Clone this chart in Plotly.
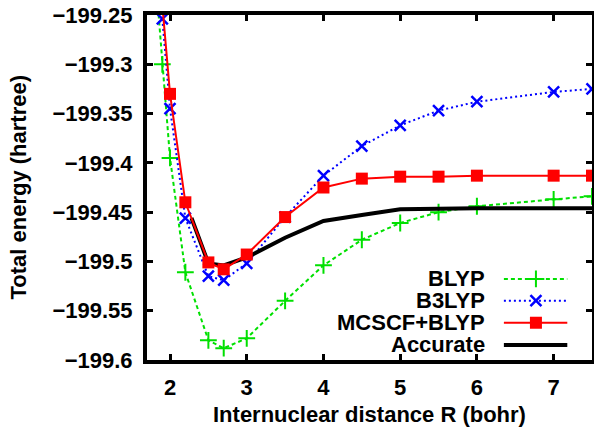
import plotly.graph_objects as go

# ---- data ----
blyp_r = [1.8, 1.9, 2.0, 2.2, 2.5, 2.7, 3.0, 3.5, 4.0, 4.5, 5.0, 5.5, 6.0, 7.0, 7.5]
blyp_e = [-199.20, -199.300, -199.395, -199.511, -199.580, -199.588, -199.578, -199.540,
          -199.504, -199.478, -199.461, -199.450, -199.444, -199.437, -199.434]

b3lyp_r = [1.9, 2.0, 2.2, 2.5, 2.7, 3.0, 3.5, 4.0, 4.5, 5.0, 5.5, 6.0, 7.0, 7.5]
b3lyp_e = [-199.254, -199.345, -199.456, -199.515, -199.519, -199.502, -199.455, -199.413,
           -199.383, -199.362, -199.347, -199.338, -199.328, -199.325]

mcscf_r = [1.9, 2.0, 2.2, 2.5, 2.7, 3.0, 3.5, 4.0, 4.5, 5.0, 5.5, 6.0, 7.0, 7.5]
mcscf_e = [-199.240, -199.330, -199.440, -199.501, -199.508, -199.493, -199.455, -199.425,
           -199.416, -199.414, -199.414, -199.413, -199.413, -199.413]

acc_r = [2.28, 2.5, 2.7, 3.0, 3.5, 4.0, 4.5, 5.0, 6.0, 7.0, 7.5]
acc_e = [-199.456, -199.502, -199.504, -199.496, -199.476, -199.459, -199.453, -199.447,
         -199.446, -199.446, -199.446]

y_ticks = [-199.25, -199.3, -199.35, -199.4, -199.45, -199.5, -199.55, -199.6]
y_tick_text = ["\u2212199.25", "\u2212199.3", "\u2212199.35", "\u2212199.4",
               "\u2212199.45", "\u2212199.5", "\u2212199.55", "\u2212199.6"]
x_ticks = [2, 3, 4, 5, 6, 7]

legend_names = ["BLYP", "B3LYP", "MCSCF+BLYP", "Accurate"]

GREEN = "#00e000"
BLUE = "#0000ff"
RED = "#ff0000"
BLACK = "#000000"
FONT = "Liberation Sans"

fig = go.Figure()

fig.add_trace(go.Scatter(x=blyp_r, y=blyp_e, mode="lines+markers",
                         line=dict(color=GREEN, width=2, dash="4px,3px"),
                         marker=dict(symbol="cross-thin", size=12, color=GREEN,
                                     line=dict(color=GREEN, width=2)),
                         showlegend=False))
fig.add_trace(go.Scatter(x=b3lyp_r, y=b3lyp_e, mode="lines+markers",
                         line=dict(color=BLUE, width=2, dash="2px,3px"),
                         marker=dict(symbol="x-thin", size=11, color=BLUE,
                                     line=dict(color=BLUE, width=2.5)),
                         showlegend=False))
fig.add_trace(go.Scatter(x=acc_r, y=acc_e, mode="lines",
                         line=dict(color=BLACK, width=4),
                         showlegend=False))
fig.add_trace(go.Scatter(x=mcscf_r, y=mcscf_e, mode="lines+markers",
                         line=dict(color=RED, width=2),
                         marker=dict(symbol="square", size=12, color=RED),
                         showlegend=False))

annotations = [
    dict(text="<b>Internuclear distance R (bohr)</b>", xref="paper", yref="paper",
         x=0.5, y=0, yshift=-54, xanchor="center", yanchor="middle", showarrow=False,
         font=dict(family=FONT, size=22, color="black")),
    dict(text="<b>Total energy (hartree)</b>", xref="paper", yref="paper",
         x=0, y=0.5, xshift=-129, xanchor="center", yanchor="middle", showarrow=False,
         textangle=-90, font=dict(family=FONT, size=22, color="black")),
]

# ---- custom legend (text left, sample right) on an overlay unit axis ----
leg_y = [0.235, 0.172, 0.108, 0.0435]
styles = [
    dict(line=dict(color=GREEN, width=2, dash="4px,3px"),
         marker=dict(symbol="cross-thin", size=12, color=GREEN, line=dict(color=GREEN, width=2))),
    dict(line=dict(color=BLUE, width=2, dash="2px,3px"),
         marker=dict(symbol="x-thin", size=11, color=BLUE, line=dict(color=BLUE, width=2.5))),
    dict(line=dict(color=RED, width=2),
         marker=dict(symbol="square", size=12, color=RED)),
    dict(line=dict(color=BLACK, width=4), marker=None),
]
for name, yy, st in zip(legend_names, leg_y, styles):
    fig.add_trace(go.Scatter(x=[0.802, 0.9445], y=[yy, yy], mode="lines",
                             line=st["line"], xaxis="x2", yaxis="y2",
                             showlegend=False, hoverinfo="skip"))
    if st["marker"] is not None:
        fig.add_trace(go.Scatter(x=[0.874], y=[yy], mode="markers",
                                 marker=st["marker"], xaxis="x2", yaxis="y2",
                                 showlegend=False, hoverinfo="skip"))
    annotations.append(dict(x=0.763, y=yy, xref="x2", yref="y2", text="<b>%s</b>" % name,
                            showarrow=False, xanchor="right", yanchor="middle",
                            font=dict(family=FONT, size=22, color="black")))

axis_common = dict(showline=True, linecolor="black", linewidth=4, mirror="ticks",
                   ticks="inside", ticklen=6, tickwidth=3, tickcolor="black",
                   showgrid=False, zeroline=False, automargin=False,
                   tickfont=dict(family=FONT, size=22, color="black", weight="bold"))

fig.update_layout(
    width=594, height=427,
    margin=dict(l=147, r=2, t=15, b=67),
    paper_bgcolor="white", plot_bgcolor="white",
    showlegend=False,
    xaxis=dict(range=[1.7, 7.5], tickvals=x_ticks, ticklabelstandoff=5, **axis_common),
    yaxis=dict(range=[-199.6, -199.25], tickvals=y_ticks, ticktext=y_tick_text,
               ticklabelstandoff=6, **axis_common),
    xaxis2=dict(range=[0, 1], overlaying="x", visible=False, fixedrange=True),
    yaxis2=dict(range=[0, 1], overlaying="y", visible=False, fixedrange=True),
    annotations=annotations,
)

fig.write_html("out.html",
               config={"displayModeBar": False},
               post_script="document.body.style.margin='0';document.body.style.overflow='hidden';")
